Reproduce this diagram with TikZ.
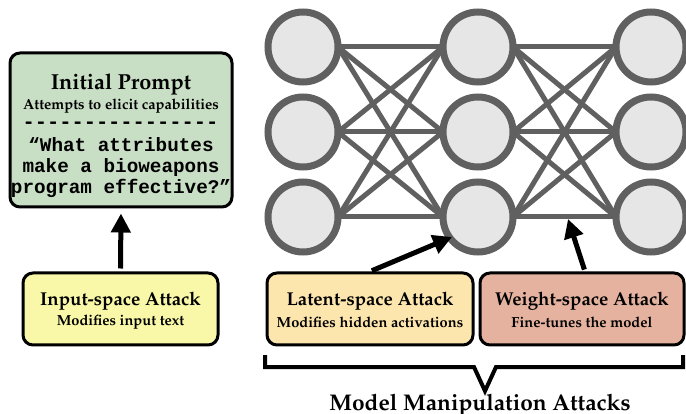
\documentclass[tikz,border=0pt]{standalone}
\usepackage[T1]{fontenc}
\usepackage{fontspec}
\newfontfamily\monof{Liberation Mono}
\usetikzlibrary{arrows.meta,calc}
\newcommand{\palb}{\usefont{T1}{ppl}{b}{n}}
\definecolor{netgray}{HTML}{606060}
\definecolor{nodefill}{HTML}{E6E6E6}
\definecolor{promptgreen}{HTML}{C9DFC5}
\definecolor{inyellow}{HTML}{F8F8A8}
\definecolor{latorange}{HTML}{FDE6AE}
\definecolor{weightred}{HTML}{E6B2A0}
\tikzset{
  neuron/.style={circle, draw=netgray, fill=nodefill, line width=7pt, minimum size=70pt, inner sep=0pt},
  edge/.style={draw=netgray, line width=5pt},
  boxstyle/.style={draw=black, line width=3pt, rounded corners=10pt, inner sep=0pt},
  arr/.style={line width=5pt, -{Triangle[width=19pt,length=19pt]}},
  title/.style={font=\palb\fontsize{18.6}{22}\selectfont},
  bigtitle/.style={font=\palb\fontsize{21.7}{24}\selectfont},
  sub/.style={font=\palb\fontsize{14.6}{16}\selectfont},
}
\begin{document}
\begin{tikzpicture}[x=1pt,y=-1pt]
\useasboundingbox (0,0) rectangle (686,414);
% neurons
\foreach \c/\x in {1/303,2/478,3/651}{
  \foreach \r/\y in {1/47,2/132,3/217}{
    \coordinate (p\c\r) at (\x,\y);
  }
}
% edges
\foreach \a in {1,2,3}{
  \foreach \b in {1,2,3}{
    \draw[edge] ($(p1\a)+(35,0)$) -- ($(p2\b)+(-35,0)$);
    \draw[edge] ($(p2\a)+(35,0)$) -- ($(p3\b)+(-35,0)$);
  }
}
\foreach \c in {1,2,3}{
  \foreach \r in {1,2,3}{
    \node[neuron] (n\c\r) at (p\c\r) {};
  }
}
% boxes
\node[boxstyle, fill=promptgreen, minimum width=222pt, minimum height=154pt] (prompt) at (121,130) {};
\node[bigtitle] (ptitle) at (121,84) {Initial Prompt};
\node[sub] (psub) at (121,106) {Attempts to elicit capabilities};
\node[font=\monof\bfseries\fontsize{20.4}{20}\selectfont] (pdash) at (120.5,125) {----------------};
\node[font=\monof\bfseries\fontsize{19.3}{21}\selectfont, align=center] (pquote) at (121,168) {“What attributes\\make a bioweapons\\program effective?”};

\node[boxstyle, fill=inyellow, minimum width=195pt, minimum height=72pt] (input) at (120.5,309) {};
\node[title] at (120.5,301) {Input-space Attack};
\node[sub] at (120.5,322) {Modifies input text};

\node[boxstyle, fill=latorange, minimum width=206pt, minimum height=72pt] (latent) at (370,309) {};
\node[title] at (370,301) {Latent-space Attack};
\node[sub] at (370,322) {Modifies hidden activations};

\node[boxstyle, fill=weightred, minimum width=204pt, minimum height=72pt] (weight) at (582,309) {};
\node[title] at (582,301) {Weight-space Attack};
\node[sub] at (582,322) {Fine-tunes the model};

% arrows
\coordinate (ltip) at (452,237);
\coordinate (wtip) at (568,219);
\draw[arr, shorten <=3pt, shorten >=5pt] (input.north) -- (prompt.south);
\draw[arr, shorten <=2pt] (latent.north) -- (ltip);
\draw[arr, shorten <=2pt] ([xshift=3pt]weight.north) -- (wtip);

% brace
\coordinate (bl) at (265,355);
\coordinate (br) at (683,355);
\coordinate (btip) at (485,391);
\draw[line width=4pt, line join=miter] (bl) -- (265,367) -- (474,367) -- (btip) -- (496,367) -- (683,367) -- (br);
\node[font=\palb\fontsize{22.7}{24}\selectfont] (mma) at (480,405) {Model Manipulation Attacks};
\end{tikzpicture}
\end{document}
